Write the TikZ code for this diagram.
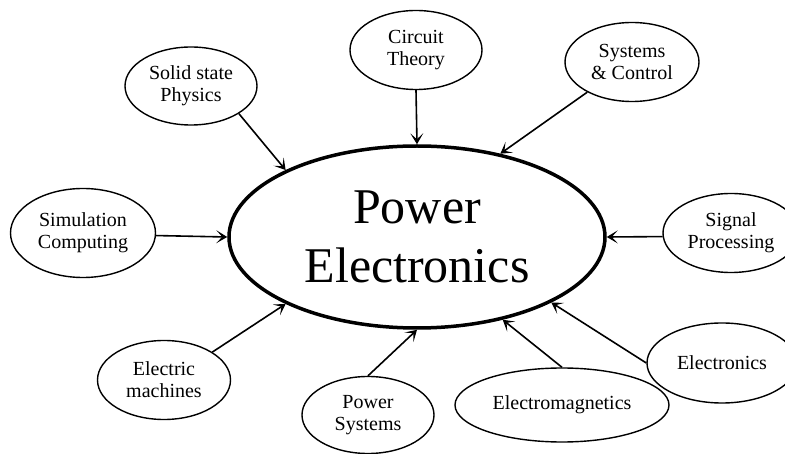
\documentclass[tikz,border=0pt]{standalone}
\usepackage{fontspec}
\setmainfont{Liberation Serif}
\usetikzlibrary{shapes.geometric, arrows.meta, positioning}

\begin{document}
\begin{tikzpicture}[
    x=1pt, y=-1pt,
    topic/.style={draw, ellipse, line width=1.4pt, inner sep=0pt, align=center,
                  font=\fontsize{20}{22}\selectfont},
    core/.style={draw, ellipse, line width=3.5pt, minimum width=376pt,
                 minimum height=182pt, inner sep=0pt, align=center,
                 font=\fontsize{50}{59}\selectfont},
    arrow/.style={-{Stealth[length=11pt, width=13pt, inset=6pt]}, line width=1.6pt}
]
\useasboundingbox (0,0) rectangle (785,454);

\node[core] (pe) at (417,237) {Power\\Electronics};

\node[topic, minimum width=132pt, minimum height=78pt] (solid) at (191,86)
    {Solid state\\Physics};
\node[topic, minimum width=132pt, minimum height=79pt] (circuit) at (416,50)
    {Circuit\\Theory};
\node[topic, minimum width=134pt, minimum height=79pt] (control) at (632,62)
    {Systems\\\& Control};
\node[topic, minimum width=145pt, minimum height=89pt] (sim) at (83,233)
    {Simulation\\Computing};
\node[topic, minimum width=136pt, minimum height=79pt] (signal) at (731,233)
    {Signal\\Processing};
\node[topic, minimum width=133pt, minimum height=79pt] (machines) at (164,380)
    {Electric\\machines};
\node[topic, minimum width=132pt, minimum height=77pt] (psys) at (368,415)
    {Power\\Systems};
\node[topic, minimum width=214pt, minimum height=74pt] (emag) at (562,405)
    {Electromagnetics};
\node[topic, minimum width=150pt, minimum height=80pt] (elec) at (722,363)
    {Electronics};

\draw[arrow] (solid.-30) -- (pe.153);
\draw[arrow] (circuit.270) -- (pe.90);
\draw[arrow] (control.214) -- (pe.45);
\draw[arrow] (sim.-2) -- (pe.180);
\draw[arrow] (signal.183) -- (pe.0);
\draw[arrow] (machines.30) -- (pe.207);
\draw[arrow] (psys.90) -- (pe.270);
\draw[arrow] (emag.90) -- (pe.316);
\draw[arrow] (elec.180) -- (pe.334);
\end{tikzpicture}
\end{document}
